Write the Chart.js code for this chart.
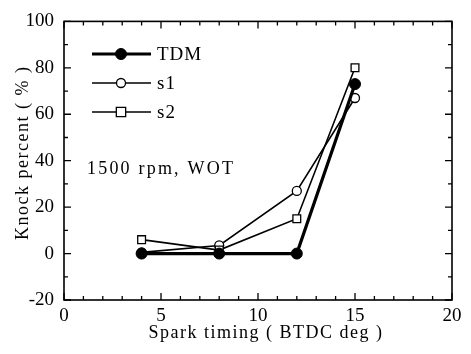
<!DOCTYPE html>
<html>
<head>
<meta charset="utf-8">
<script src="https://cdn.jsdelivr.net/npm/chart.js@4/dist/chart.umd.min.js"></script>
<style>
  html, body { margin: 0; padding: 0; background: #fff; }
  #wrap { width: 471px; height: 354px; }
</style>
</head>
<body>
<div id="wrap"><canvas id="knock-chart"></canvas></div>
<script>
// Datos
const sparkTiming = [4, 8, 12, 15];
const tdmValues = [0, 0, 0, 73];
const s1Values = [0.5, 3.5, 27, 67];
const s2Values = [6, 1.5, 15, 80];
const xTicks = [0, 5, 10, 15, 20];
const yTicks = [-20, 0, 20, 40, 60, 80, 100];

const SERIF = "'Liberation Serif', 'DejaVu Serif', serif";

const toPoints = (vals) => sparkTiming.map((x, i) => ({ x: x, y: vals[i] }));

// Marco con marcas hacia dentro en los cuatro lados + títulos + leyenda
const framePlugin = {
  id: "frame",
  afterDraw(chart) {
    const ctx = chart.ctx;
    const a = chart.chartArea;
    const xs = chart.scales.x;
    const ys = chart.scales.y;
    ctx.save();
    ctx.strokeStyle = "#000";
    ctx.lineWidth = 1.6;
    ctx.strokeRect(a.left, a.top, a.right - a.left, a.bottom - a.top);

    ctx.lineWidth = 1.3;
    ctx.beginPath();
    for (let v = 0; v <= 20; v++) {
      const px = xs.getPixelForValue(v);
      const len = v % 5 === 0 ? 7 : 4;
      ctx.moveTo(px, a.bottom); ctx.lineTo(px, a.bottom - len);
      ctx.moveTo(px, a.top); ctx.lineTo(px, a.top + len);
    }
    for (let v = -20; v <= 100; v += 10) {
      const py = ys.getPixelForValue(v);
      const len = v % 20 === 0 ? 7 : 4;
      ctx.moveTo(a.left, py); ctx.lineTo(a.left + len, py);
      ctx.moveTo(a.right, py); ctx.lineTo(a.right - len, py);
    }
    ctx.stroke();

    // títulos de ejes
    ctx.fillStyle = "#000";
    ctx.font = "18px " + SERIF;
    ctx.letterSpacing = "1.5px";
    ctx.textAlign = "center";
    ctx.textBaseline = "alphabetic";
    ctx.fillText("Spark timing ( BTDC deg )", (a.left + a.right) / 2 + 8, 338);
    ctx.save();
    ctx.translate(28, (a.top + a.bottom) / 2 - 8);
    ctx.rotate(-Math.PI / 2);
    ctx.fillText("Knock percent ( % )", 0, 0);
    ctx.restore();

    // leyenda
    const items = [
      { label: "TDM", ds: 0, y: 54 },
      { label: "s1", ds: 1, y: 83 },
      { label: "s2", ds: 2, y: 112 },
    ];
    items.forEach((it) => {
      const ds = chart.data.datasets[it.ds];
      ctx.strokeStyle = "#000";
      ctx.lineWidth = ds.borderWidth;
      ctx.beginPath();
      ctx.moveTo(92, it.y); ctx.lineTo(151, it.y);
      ctx.stroke();
      ctx.lineWidth = ds.pointBorderWidth;
      ctx.fillStyle = ds.pointBackgroundColor;
      ctx.beginPath();
      if (ds.pointStyle === "rect") {
        const h = ds.pointRadius;
        ctx.rect(121 - h * 0.85, it.y - h * 0.85, h * 1.7, h * 1.7);
      } else {
        ctx.arc(121, it.y, ds.pointRadius, 0, Math.PI * 2);
      }
      ctx.fill();
      ctx.stroke();
      ctx.fillStyle = "#000";
      ctx.textAlign = "left";
      ctx.textBaseline = "middle";
      ctx.font = "19px " + SERIF;
      ctx.letterSpacing = "1px";
      ctx.fillText(it.label, 157, it.y + 1);
    });
    ctx.font = "18px " + SERIF;
    ctx.letterSpacing = "2.2px";
    ctx.textAlign = "left";
    ctx.textBaseline = "alphabetic";
    ctx.fillText("1500 rpm, WOT", 87, 174);
    ctx.restore();
  },
};

const chartKnock = new Chart(document.getElementById("knock-chart").getContext("2d"), {
  type: "line",
  data: {
    datasets: [
      {
        label: "TDM",
        data: toPoints(tdmValues),
        borderColor: "#000",
        borderWidth: 3.2,
        pointStyle: "circle",
        pointRadius: 5.5,
        pointBackgroundColor: "#000",
        pointBorderColor: "#000",
        pointBorderWidth: 1,
        order: 0,
      },
      {
        label: "s1",
        data: toPoints(s1Values),
        borderColor: "#000",
        borderWidth: 1.6,
        pointStyle: "circle",
        pointRadius: 4.5,
        pointBackgroundColor: "#fff",
        pointBorderColor: "#000",
        pointBorderWidth: 1.3,
        order: 2,
      },
      {
        label: "s2",
        data: toPoints(s2Values),
        borderColor: "#000",
        borderWidth: 1.6,
        pointStyle: "rect",
        pointRadius: 5.5,
        pointBackgroundColor: "#fff",
        pointBorderColor: "#000",
        pointBorderWidth: 1.3,
        order: 1,
      },
    ],
  },
  options: {
    responsive: true,
    maintainAspectRatio: false,
    animation: false,
    layout: { padding: { top: 15, right: 19, left: 0, bottom: 0 } },
    plugins: {
      legend: { display: false },
      tooltip: { enabled: false },
    },
    scales: {
      x: {
        type: "linear",
        min: 0,
        max: 20,
        afterBuildTicks: (s) => { s.ticks = xTicks.map((v) => ({ value: v })); },
        afterFit: (s) => { s.height = 54; },
        grid: { display: false, drawTicks: false },
        border: { display: false },
        ticks: {
          color: "#000",
          font: { family: SERIF, size: 19 },
          padding: 5,
        },
      },
      y: {
        type: "linear",
        min: -20,
        max: 100,
        afterBuildTicks: (s) => { s.ticks = yTicks.map((v) => ({ value: v })); },
        afterFit: (s) => { s.width = 64; },
        grid: { display: false, drawTicks: false },
        border: { display: false },
        ticks: {
          color: "#000",
          font: { family: SERIF, size: 19 },
          padding: 10,
        },
      },
    },
  },
  plugins: [framePlugin],
});
</script>
</body>
</html>
